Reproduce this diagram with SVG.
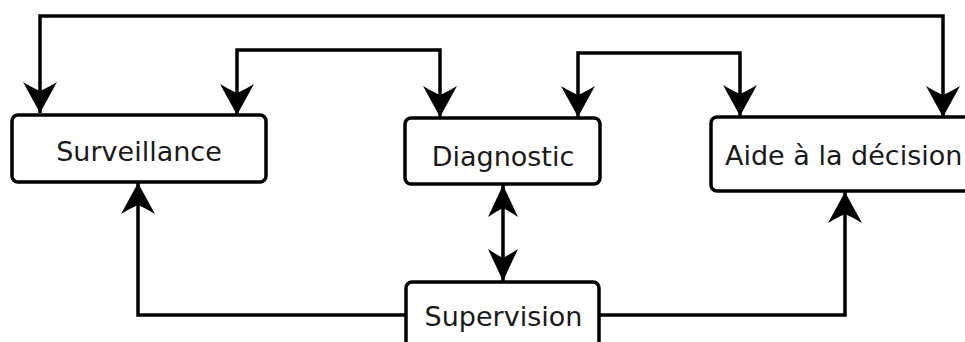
<svg xmlns="http://www.w3.org/2000/svg" width="965" height="342" viewBox="0 0 965 342">
  <style>
    .box { fill: #ffffff; stroke: #000000; stroke-width: 3.5; }
    .lbl { font-family: "DejaVu Sans", Verdana, sans-serif; font-size: 27px; fill: #1a1a1a; }
    .conn { fill: none; stroke: #000000; stroke-width: 3.5; }
  </style>
  <defs>
    <marker id="arr" markerUnits="userSpaceOnUse" markerWidth="40" markerHeight="40" viewBox="-34 -20 36 40" refX="0" refY="0" orient="auto-start-reverse">
      <path d="M0,0 L-31,-17 Q-25,-7 -22,0 Q-25,7 -31,17 Z" fill="#000000"/>
    </marker>
    <marker id="arrs" markerUnits="userSpaceOnUse" markerWidth="40" markerHeight="40" viewBox="-34 -20 36 40" refX="0" refY="0" orient="auto-start-reverse">
      <path d="M0,0 L-32,-15 Q-26,-6 -23,0 Q-26,6 -32,15 Z" fill="#000000"/>
    </marker>
  </defs>
  <g id="connectors">
    <path class="conn" d="M40,113 V16 H943 V117" marker-start="url(#arr)" marker-end="url(#arr)"/>
    <path class="conn" d="M237,115 V50 H440 V117" marker-start="url(#arr)" marker-end="url(#arr)"/>
    <path class="conn" d="M578,117 V53 H740 V116" marker-start="url(#arr)" marker-end="url(#arr)"/>
    <path class="conn" d="M503,185 V281" marker-start="url(#arrs)" marker-end="url(#arrs)"/>
    <path class="conn" d="M406,315 H138 V183" marker-end="url(#arr)"/>
    <path class="conn" d="M600,315 H845 V192" marker-end="url(#arr)"/>
  </g>
  <g id="surveillance">
    <rect class="box" x="12" y="115" width="254" height="67" rx="6"/>
    <text class="lbl" x="139" y="161" text-anchor="middle">Surveillance</text>
  </g>
  <g id="diagnostic">
    <rect class="box" x="405" y="118" width="195" height="66" rx="6"/>
    <text class="lbl" x="503" y="165.5" text-anchor="middle">Diagnostic</text>
  </g>
  <g id="aide">
    <rect class="box" x="711" y="117" width="280" height="74" rx="6"/>
    <text class="lbl" x="725" y="165">Aide à la décision</text>
  </g>
  <g id="supervision">
    <rect class="box" x="406" y="282" width="193" height="80" rx="6"/>
    <text class="lbl" x="503.5" y="326" text-anchor="middle">Supervision</text>
  </g>
</svg>
